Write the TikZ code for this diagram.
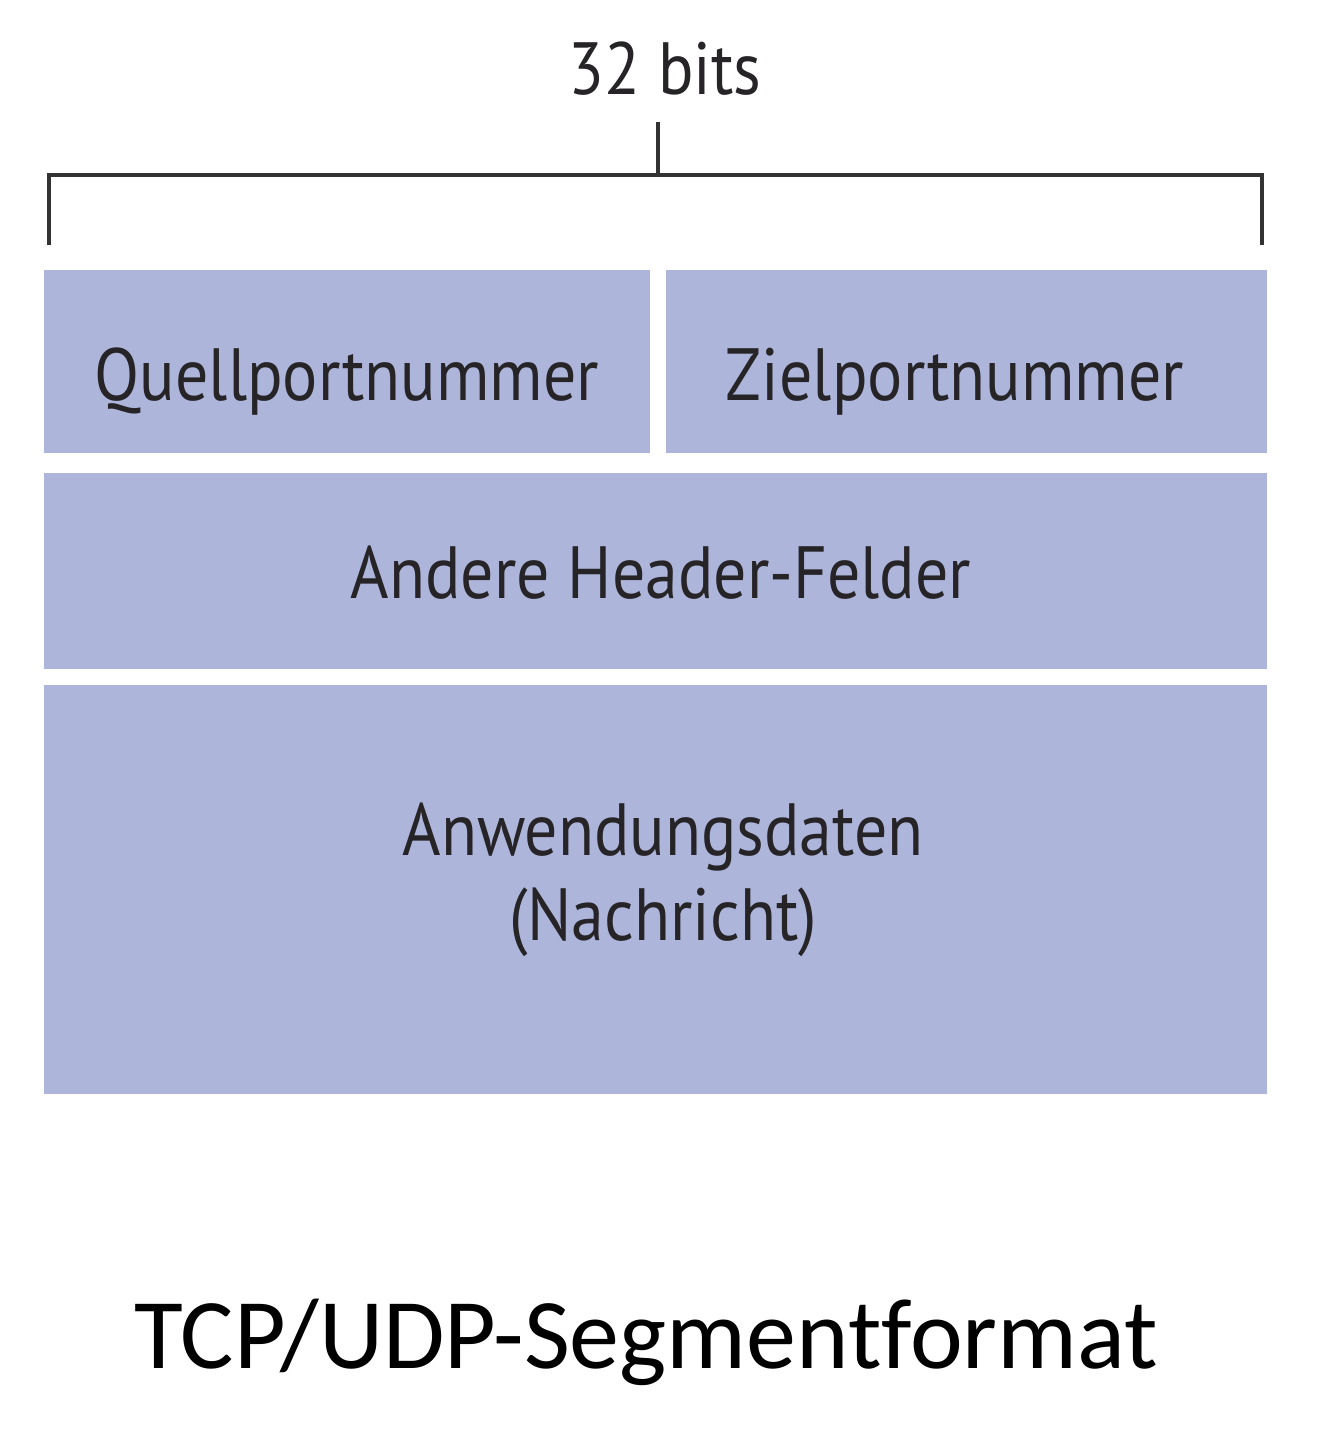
\documentclass[tikz,border=0pt]{standalone}
\usepackage{fontspec}
\setmainfont[FakeStretch=0.89]{PT Sans}
\newfontfamily\capfont[Ligatures=NoCommon]{Carlito}
\definecolor{fieldblue}{RGB}{173,181,219}
\definecolor{txtgray}{RGB}{38,36,38}
\begin{document}
\begin{tikzpicture}[x=1pt,y=-1pt,
  field/.style={fill=fieldblue,draw=none},
  lbl/.style={anchor=base,text=txtgray,font=\fontsize{74}{86}\selectfont,inner sep=0pt},
  brk/.style={draw=black!80,line width=3.5pt}]
\useasboundingbox[fill=white] (0,0) rectangle (1334,1434);
% fields
\path[field] (44,270) rectangle (650,453);
\path[field] (666,270) rectangle (1267,453);
\path[field] (44,473) rectangle (1267,669);
\path[field] (44,685) rectangle (1267,1094);
% bracket
\coordinate (bl) at (49,245);
\coordinate (br) at (1262,245);
\coordinate (btop) at (658,122);
\draw[brk,line join=miter] (bl) -- (49,175) -- (1262,175) -- (br);
\draw[brk] (btop) -- (658,175);
% labels
\node[lbl] (bits) at (665,95) {32 bits};
\node[lbl] (src) at (347,400) {Quellportnummer};
\node[lbl] (dst) at (955,400) {Zielportnummer};
\node[lbl] (hdr) at (661,598) {Andere Header-Felder};
\node[lbl] (app1) at (663,855) {Anwendungsdaten};
\node[lbl] (app2) at (663,940) {(Nachricht)};
\node[anchor=base,inner sep=0pt,font=\capfont\fontsize{100}{112}\selectfont] (cap) at (646,1368) {TCP/UDP-Segmentformat};
\end{tikzpicture}
\end{document}
